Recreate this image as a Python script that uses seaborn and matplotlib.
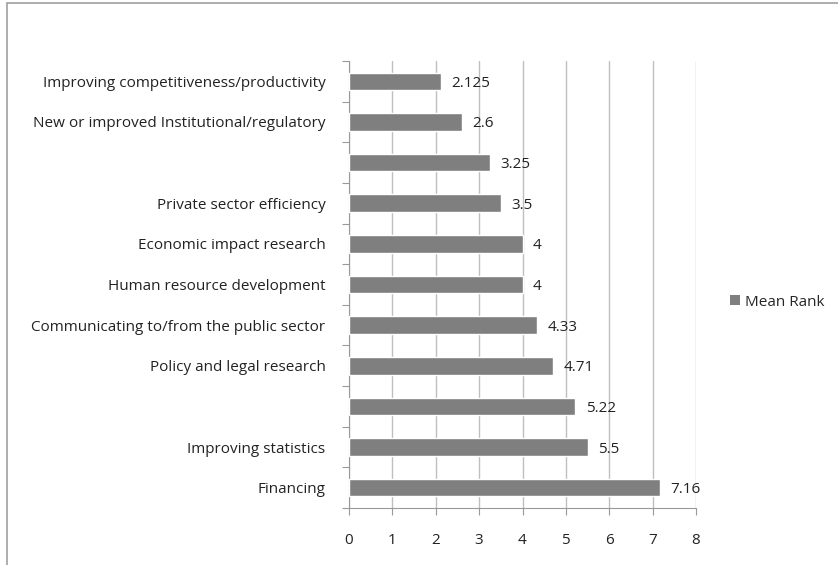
import matplotlib
matplotlib.use("Agg")
import matplotlib.pyplot as plt
import seaborn as sns
import pandas as pd
from matplotlib.patches import Rectangle, Patch

categories = [
    "Improving competitiveness/productivity",
    "New or improved Institutional/regulatory",
    " ",
    "Private sector efficiency",
    "Economic impact research",
    "Human resource development",
    "Communicating to/from the public sector",
    "Policy and legal research",
    "  ",
    "Improving statistics",
    "Financing",
]
mean_rank = [2.125, 2.6, 3.25, 3.5, 4, 4, 4.33, 4.71, 5.22, 5.5, 7.16]
value_labels = ["2.125", "2.6", "3.25", "3.5", "4", "4", "4.33", "4.71", "5.22", "5.5", "7.16"]
xticks = [0, 1, 2, 3, 4, 5, 6, 7, 8]

sns.set_theme(style="white")
plt.rcParams["font.family"] = ["Open Sans", "DejaVu Sans"]

df = pd.DataFrame({"Category": categories, "Mean Rank": mean_rank})

fs = 11
fig = plt.figure(figsize=(8.38, 5.65), dpi=100)
ax = fig.add_axes([349/838, 1-508/565, 347/838, 447/565])

bar_color = "#7f7f7f"
sns.barplot(data=df, y="Category", x="Mean Rank", order=categories, orient="h",
            color=bar_color, width=0.43, saturation=1, ax=ax, zorder=3)

ax.set_xlim(0, 8)
ax.set_ylim(len(categories) - 0.5, -0.5)
ax.set_xticks(xticks)
ax.set_xticklabels([str(t) for t in xticks], fontsize=fs, color="#222222")
ax.set_xlabel("")
ax.set_ylabel("")
ax.tick_params(axis="y", length=0, labelsize=fs, labelcolor="#222222", pad=17)
ax.tick_params(axis="x", length=5, width=0.8, color="#999999", direction="out", pad=13, bottom=True)
ax.set_yticks(range(len(categories)))
ax.set_yticklabels(categories)
ax.set_yticks([i - 0.5 for i in range(len(categories) + 1)], minor=True)
ax.tick_params(axis="y", which="minor", length=5, width=0.8, color="#999999", left=True)

ax.grid(axis="x", color="#bfbfbf", linewidth=1, zorder=0)
ax.set_axisbelow(True)
for s in ["top", "right"]:
    ax.spines[s].set_visible(False)
for s in ["left", "bottom"]:
    ax.spines[s].set_color("#999999")
    ax.spines[s].set_linewidth(0.8)

for i, (v, lab) in enumerate(zip(mean_rank, value_labels)):
    ax.text(v + 0.24, i + 0.05, lab, va="center", ha="left", fontsize=fs, color="#222222")

handle = Patch(facecolor=bar_color, edgecolor="none")
fig.legend([handle], ["Mean Rank"], loc="center left", bbox_to_anchor=(730/838, 1-302/565),
           frameon=False, fontsize=fs, handlelength=0.65, handleheight=0.65, handletextpad=0.35,
           borderpad=0, borderaxespad=0)

fig.patches.append(Rectangle((7/838, -0.1), 1.2, 1.1 - 3/565, transform=fig.transFigure,
                             fill=False, edgecolor="#a0a0a0", linewidth=1.2))

fig.savefig("out.png", dpi=100)
